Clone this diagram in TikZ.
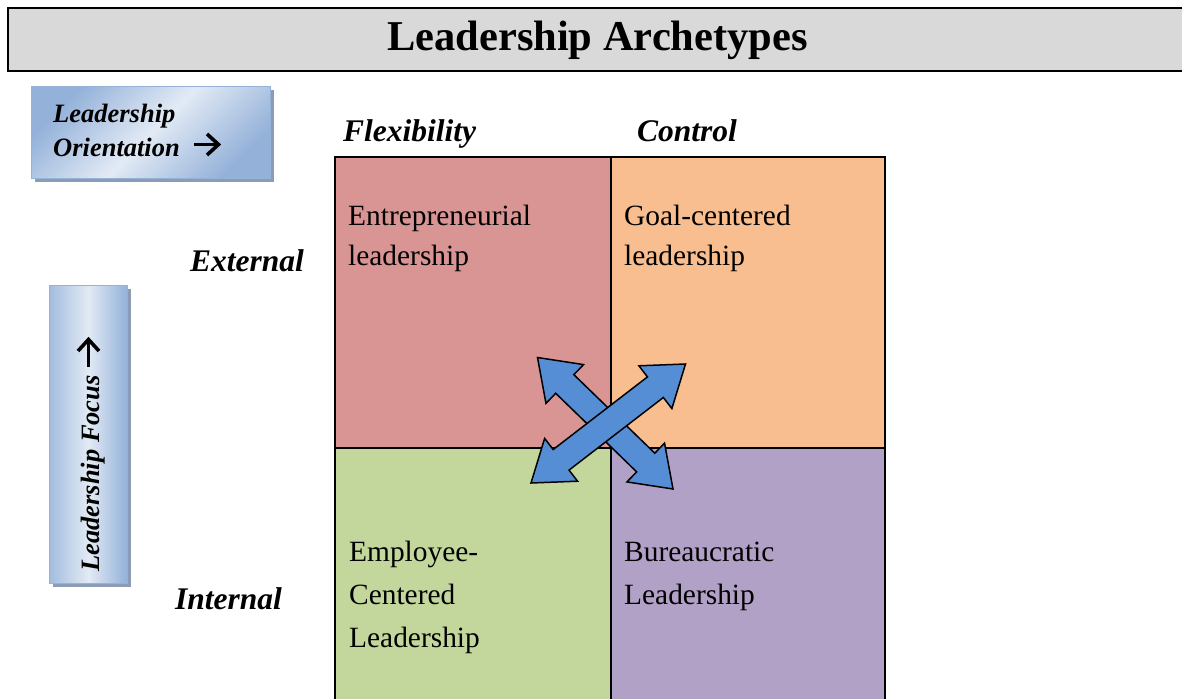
\documentclass[tikz,border=0pt]{standalone}
\usepackage{fontspec}
\setmainfont{Liberation Serif}
\usetikzlibrary{calc,shadows}

\definecolor{bargray}{HTML}{D9D9D9}
\definecolor{entred}{HTML}{D99594}
\definecolor{goalorange}{HTML}{F8BE8F}
\definecolor{empgreen}{HTML}{C3D69B}
\definecolor{burpurple}{HTML}{B2A1C7}
\definecolor{arrowblue}{HTML}{558ED5}
\definecolor{boxedge}{HTML}{95B3D7}
\definecolor{boxdark}{HTML}{93B1D9}
\definecolor{boxlight}{HTML}{E2EAF5}
\definecolor{shadowblue}{HTML}{8C9CB4}

% double-headed block arrow between two named tips
\newcommand\blockarrow[2]{%
  \path ($(#1)!38pt!(#2)$) coordinate (ha) ($(#2)!38pt!(#1)$) coordinate (hb);
  \draw[blockarrow] (#1)
    -- ($(ha)!27pt!90:(#2)$) -- ($(ha)!13pt!90:(#2)$)
    -- ($(hb)!13pt!-90:(#1)$) -- ($(hb)!27pt!-90:(#1)$)
    -- (#2)
    -- ($(hb)!27pt!90:(#1)$) -- ($(hb)!13pt!90:(#1)$)
    -- ($(ha)!13pt!-90:(#2)$) -- ($(ha)!27pt!-90:(#2)$)
    -- cycle;}

\begin{document}
\begin{tikzpicture}[x=1pt,y=-1pt,
  cell/.style={draw=black, line width=2pt, anchor=north west, inner sep=0pt},
  celltext/.style={anchor=base west, inner sep=0pt, align=left,
    font={\fontsize{29.4}{40}\selectfont}},
  axislabel/.style={anchor=base west, inner sep=0pt,
    font={\fontsize{31.5}{36}\selectfont\bfseries\itshape}},
  boxlabel/.style={inner sep=0pt, align=left,
    font={\fontsize{26.5}{34}\selectfont\bfseries\itshape}},
  sidebox/.style={draw=boxedge, line width=0.8pt, anchor=north west, inner sep=0pt,
    drop shadow={shadow xshift=4pt, shadow yshift=-4pt, fill=shadowblue, opacity=1}},
  pointer/.style={draw=black, line width=3.6pt, line join=miter},
  blockarrow/.style={draw=black, line width=1.5pt, fill=arrowblue, line join=miter}]

\useasboundingbox (0,0) rectangle (1182,698);
\clip (0,0) rectangle (1182,698);

% title bar
\node[draw=black, fill=bargray, line width=2.4pt, anchor=north west, inner sep=0pt,
  minimum width=1200pt, minimum height=63pt] (bar) at (7,7) {};
\node[inner sep=0pt, anchor=base, font={\fontsize{42.5}{48}\selectfont\bfseries}]
  (title) at (597.5,51) {Leadership Archetypes};

% orientation box
\node[sidebox, minimum width=239pt, minimum height=92pt,
  left color=boxdark, right color=boxdark, middle color=boxlight, shading angle=45]
  (orient) at (31,86) {};
\node[boxlabel, anchor=base west] (orienttxt) at (53,156)
  {Leadership\\Orientation};
\draw[pointer] (194,144.5) -- (218.5,144.5);
\draw[pointer] (207,134) -- (218.5,144.5) -- (207,155);

% focus box
\node[sidebox, minimum width=78pt, minimum height=298pt,
  left color=boxdark!85!white, right color=boxdark, middle color=boxlight]
  (focus) at (49,285) {};
\node[boxlabel, anchor=base west, rotate=90] (focustxt) at (99,572)
  {Leadership Focus};
\draw[pointer] (88.5,367) -- (88.5,339.5);
\draw[pointer] (78,351) -- (88.5,339.5) -- (99,351);

% axis labels
\node[axislabel] (flex) at (343,142) {Flexibility};
\node[axislabel] (ctrl) at (637,142) {Control};
\node[axislabel] (ext) at (190,271) {External};
\node[axislabel] (int) at (175,609) {Internal};

% quadrants
\node[cell, fill=entred, minimum width=276pt, minimum height=291pt] (ent) at (334,156) {};
\node[cell, fill=goalorange, minimum width=274pt, minimum height=291pt] (goal) at (610,156) {};
\node[cell, fill=empgreen, minimum width=276pt, minimum height=280pt] (emp) at (334,447) {};
\node[cell, fill=burpurple, minimum width=274pt, minimum height=280pt] (bur) at (610,447) {};

% quadrant texts (anchored at the baseline of their last line)
\node[celltext] (enttxt) at (348,265) {Entrepreneurial\\leadership};
\node[celltext] (goaltxt) at (624,265) {Goal-centered\\leadership};
\node[celltext, font={\fontsize{29.4}{43}\selectfont}] (emptxt) at (349,647)
  {Employee-\\Centered\\Leadership};
\node[celltext, font={\fontsize{29.4}{43}\selectfont}] (burtxt) at (624,604)
  {Bureaucratic\\Leadership};

% crossing arrows
\coordinate (nwtip) at (537.5,357.5);
\coordinate (setip) at (673,489);
\coordinate (swtip) at (531,483);
\coordinate (netip) at (685.5,364);
\blockarrow{nwtip}{setip}
\blockarrow{swtip}{netip}

\end{tikzpicture}
\end{document}
